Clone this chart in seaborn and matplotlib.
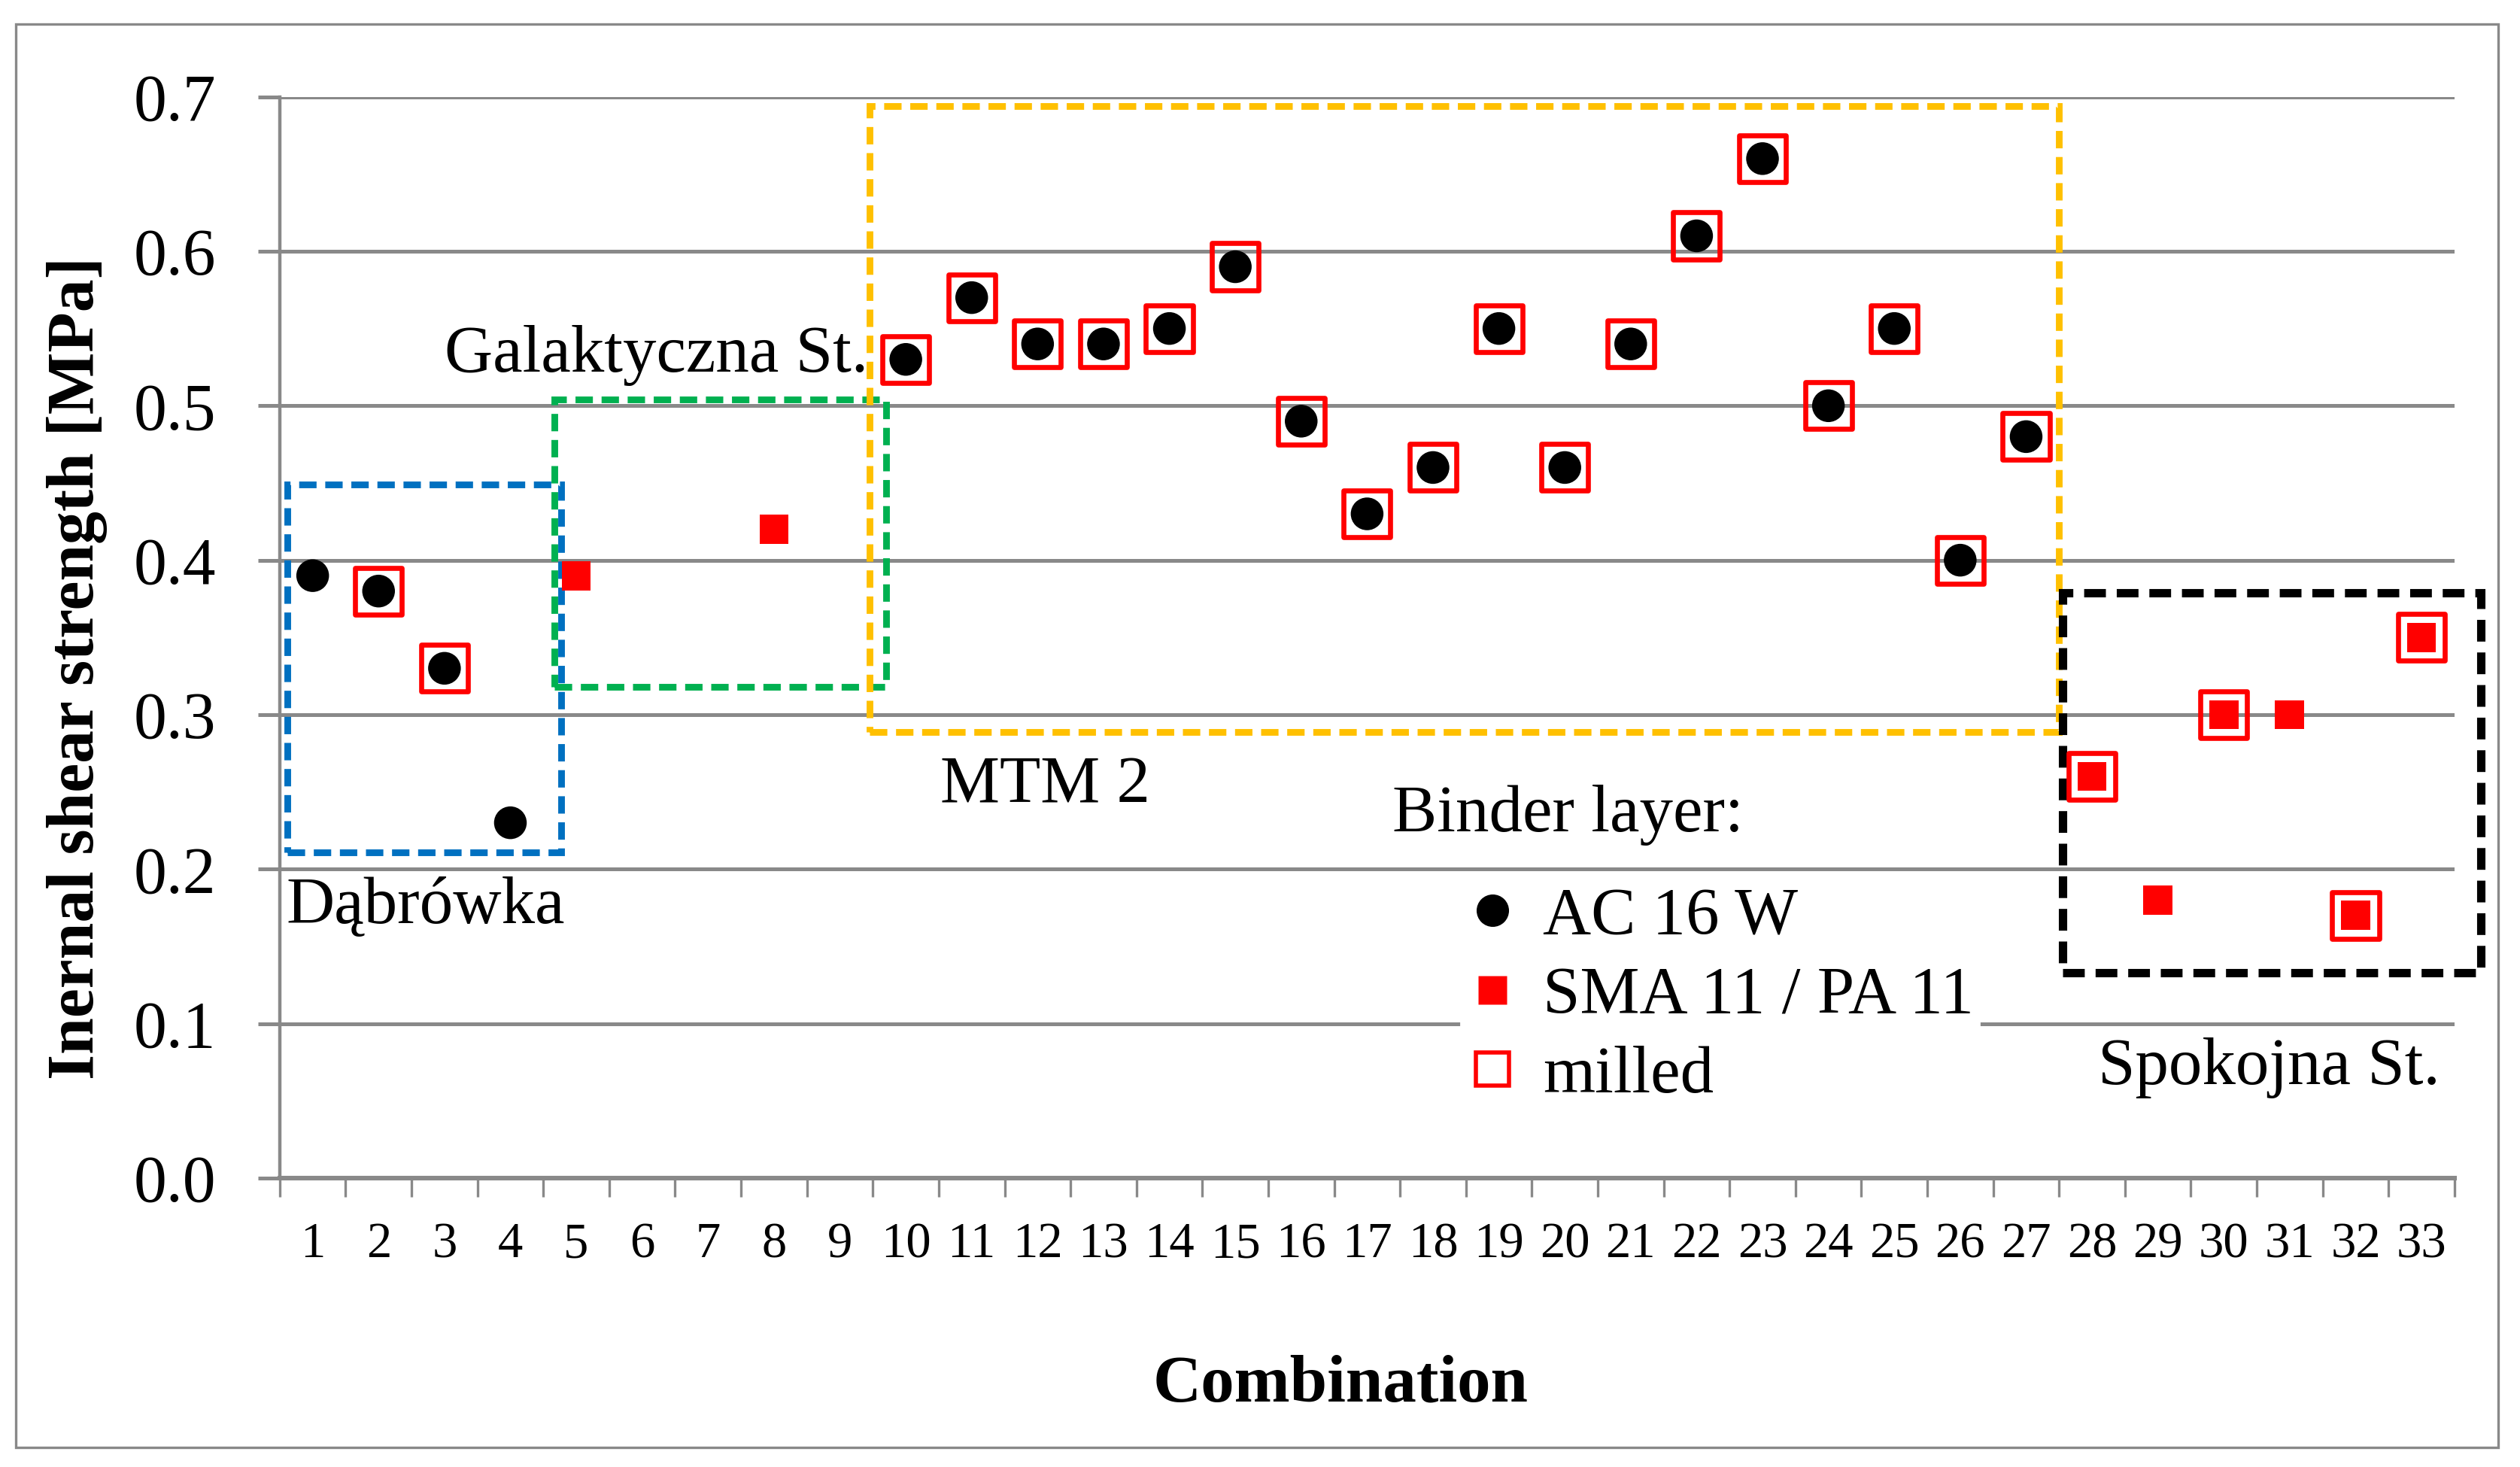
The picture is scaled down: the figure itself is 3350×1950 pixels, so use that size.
import matplotlib
matplotlib.use("Agg")
import matplotlib.pyplot as plt
import numpy as np
import pandas as pd
import seaborn as sns
from matplotlib.patches import Rectangle
from matplotlib.lines import Line2D

# ---------------- data ----------------
tick_labels = [str(i) for i in range(1, 34)]
combination = [1, 2, 3, 4, 5, 8, 10, 11, 12, 13, 14, 15, 16, 17, 18, 19, 20,
               21, 22, 23, 24, 25, 26, 27, 28, 29, 30, 31, 32, 33]
strength = [0.39, 0.38, 0.33, 0.23, 0.39, 0.42, 0.53, 0.57, 0.54, 0.54, 0.55,
            0.59, 0.49, 0.43, 0.46, 0.55, 0.46, 0.54, 0.61, 0.66, 0.50, 0.55,
            0.40, 0.48, 0.26, 0.18, 0.30, 0.30, 0.17, 0.35]
binder = (["AC 16 W"] * 4 + ["SMA 11 / PA 11"] * 2 + ["AC 16 W"] * 18
          + ["SMA 11 / PA 11"] * 6)
milled = [False, True, True, False, False, False] + [True] * 18 + \
         [True, False, True, False, True, True]

df = pd.DataFrame({"combination": combination, "strength": strength,
                   "binder": binder, "milled": milled})

# ---------------- style ----------------
sns.set_style("white")
plt.rcParams["font.family"] = ["Liberation Serif", "DejaVu Serif"]
plt.rcParams["text.color"] = "black"
plt.rcParams["xtick.color"] = "black"
plt.rcParams["ytick.color"] = "black"
plt.rcParams["axes.labelcolor"] = "black"

GRID = "#898989"
fig = plt.figure(figsize=(16.75, 9.75), dpi=200)
ax = fig.add_axes([0.111, 0.197, 0.863, 0.737])

# outer border of the chart area
fig.patches.append(Rectangle((0.0064, 0.0132), 0.985, 0.9703, transform=fig.transFigure,
                             fill=False, edgecolor=GRID, linewidth=1.2, zorder=0))

# milled (open red squares) drawn first
sub = df[df.milled]
sns.scatterplot(data=sub, x="combination", y="strength", marker="s", s=500,
                ax=ax, zorder=3, legend=False)
coll = ax.collections[-1]
coll.set_facecolor("none")
coll.set_edgecolor("#FF0000")
coll.set_linewidth(2.4)

sub = df[df.binder == "AC 16 W"]
sns.scatterplot(data=sub, x="combination", y="strength", marker="o", s=245,
                color="black", edgecolor="none", linewidth=0, ax=ax, zorder=4,
                legend=False)
sub = df[df.binder == "SMA 11 / PA 11"]
sns.scatterplot(data=sub, x="combination", y="strength", marker="s", s=195,
                color="#FF0000", edgecolor="none", linewidth=0, ax=ax, zorder=4,
                legend=False)

# axes
ax.set_xlim(0.5, 33.5)
ax.set_ylim(0, 0.7)
ax.set_xticks(range(1, 34))
ax.set_xticklabels(tick_labels, fontsize=24)
ax.set_xticks(np.arange(0.5, 34, 1), minor=True)
ax.tick_params(axis="x", which="major", length=0, pad=21)
ax.tick_params(axis="x", which="minor", length=9, width=1.2, color=GRID,
               direction="out", bottom=True)
ax.set_yticks(np.arange(0, 0.71, 0.1))
ax.set_yticklabels([f"{v:.1f}" for v in np.arange(0, 0.71, 0.1)], fontsize=31.5)
ax.tick_params(axis="y", which="major", length=10.5, width=1.8, color=GRID,
               direction="out", left=True, pad=20)
ax.yaxis.grid(True, color=GRID, linewidth=1.8, zorder=0)
ax.set_axisbelow(True)
for side in ["top", "right"]:
    ax.spines[side].set_visible(False)
ax.spines["left"].set_color(GRID)
ax.spines["left"].set_linewidth(1.6)
ax.spines["bottom"].set_color(GRID)
ax.spines["bottom"].set_linewidth(2.2)

ax.set_xlabel("")
ax.set_ylabel("")
fig.text(0.0305, 0.5446, "Inernal shear strength [MPa]", rotation=90,
         fontsize=31.5, fontweight="bold", ha="center", va="center")
fig.text(0.532, 0.056, "Combination", fontsize=32, fontweight="bold",
         ha="center", va="center")

# dashed group boxes (x0, x1, y0, y1, colour, lw)
boxes = [
    (0.62, 4.77, 0.211, 0.449, "#0070C0", 3.2),
    (4.67, 9.70, 0.318, 0.504, "#00B050", 3.2),
    (9.45, 27.50, 0.289, 0.694, "#FFC000", 3.2),
    (27.55, 33.90, 0.133, 0.379, "black", 4.0),
]
for x0, x1, y0, y1, c, lw in boxes:
    ax.add_patch(Rectangle((x0, y0), x1 - x0, y1 - y0, fill=False, edgecolor=c,
                           linewidth=lw, linestyle=(0, (2.6, 1.3)),
                           clip_on=False, zorder=2))

# group labels
ann_fs = 32
ax.text(0.6, 0.165, "Dąbrówka", fontsize=ann_fs, ha="left", va="baseline")
ax.text(9.43, 0.522, "Galaktyczna St.", fontsize=ann_fs, ha="right", va="baseline")
ax.text(10.52, 0.243, "MTM 2", fontsize=ann_fs, ha="left", va="baseline")
ax.text(17.38, 0.2246, "Binder layer:", fontsize=ann_fs, ha="left", va="baseline")
ax.text(28.09, 0.0606, "Spokojna St.", fontsize=ann_fs, ha="left", va="baseline")

# legend
handles = [
    Line2D([], [], marker="o", linestyle="none", markersize=15.5,
           markerfacecolor="black", markeredgecolor="none"),
    Line2D([], [], marker="s", linestyle="none", markersize=14,
           markerfacecolor="#FF0000", markeredgecolor="none"),
    Line2D([], [], marker="s", linestyle="none", markersize=15.5,
           markerfacecolor="white", markeredgecolor="#FF0000", markeredgewidth=2.0),
]
leg = ax.legend(handles, ["AC 16 W", "SMA 11 / PA 11", "milled"],
                loc="upper left", bbox_to_anchor=(0.543, 0.274),
                fontsize=32, frameon=True, facecolor="white", edgecolor="white",
                framealpha=1, fancybox=False, handlelength=0.8,
                handletextpad=0.35, labelspacing=0.27, borderpad=0.08,
                borderaxespad=0)
leg.set_zorder(5)

fig.savefig("out.png", dpi=200, facecolor="white")
